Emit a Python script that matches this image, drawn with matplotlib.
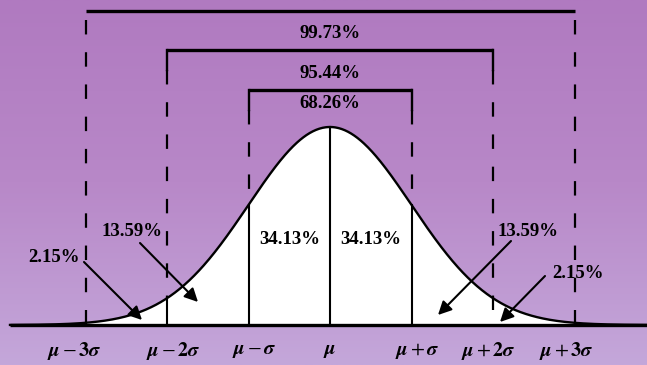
import numpy as np
import matplotlib
matplotlib.use("Agg")
import matplotlib.pyplot as plt
from matplotlib.colors import LinearSegmentedColormap

plt.rcParams['mathtext.fontset'] = 'stix'

# ---- data ----
sigma_pos = [-3, -2, -1, 0, 1, 2, 3]
sigma_labels = [r'$\boldsymbol{\mu}-\mathbf{3}\boldsymbol{\sigma}$',
                r'$\boldsymbol{\mu}-\mathbf{2}\boldsymbol{\sigma}$',
                r'$\boldsymbol{\mu}-\boldsymbol{\sigma}$',
                r'$\boldsymbol{\mu}$',
                r'$\boldsymbol{\mu}+\boldsymbol{\sigma}$',
                r'$\boldsymbol{\mu}+\mathbf{2}\boldsymbol{\sigma}$',
                r'$\boldsymbol{\mu}+\mathbf{3}\boldsymbol{\sigma}$']
band_pct = ['34.13%', '34.13%']
band_pct_x = [-0.5, 0.5]
bracket_k = [3, 2, 1]
bracket_pct = ['99.73%', '95.44%', '68.26%']
tail_labels = ['2.15%', '13.59%', '13.59%', '2.15%']

# ---- layout ----
W, H = 647, 365
MU_PX, SIG_PX, BASE_PX, PEAK_PX = 330, 81.5, 325, 127
pdf_peak = 1/np.sqrt(2*np.pi)
YS = (BASE_PX - PEAK_PX) / pdf_peak  # px per density unit

def X(px): return (px - MU_PX) / SIG_PX
def Y(py): return (BASE_PX - py) / YS

FS = 13.5
TFONT = dict(fontsize=FS, fontweight='bold', family='Liberation Serif')

fig = plt.figure(figsize=(6.47, 3.65), dpi=100)
ax = fig.add_axes([0, 0, 1, 1])
ax.set_xlim(X(0), X(W))
ax.set_ylim(Y(H), Y(0))
ax.axis('off')

# background gradient
cmap = LinearSegmentedColormap.from_list('bg', ['#b07ac0', '#b888c8', '#c4a7da'])
grad = np.linspace(0, 1, 256).reshape(-1, 1)
ax.imshow(grad, extent=[X(0), X(W), Y(H), Y(0)], aspect='auto', cmap=cmap,
          origin='upper', zorder=0)

# curve
xs = np.linspace(X(10), X(W), 800)
pdf = lambda x: np.exp(-x**2/2)/np.sqrt(2*np.pi)
ys = pdf(xs)
ax.fill_between(xs, 0, ys, color='white', zorder=1)
ax.plot(xs, ys, color='black', lw=1.7, zorder=4)
ax.plot([X(10), X(W)], [0, 0], color='black', lw=2.4, zorder=4, solid_capstyle='butt')

dash = (0, (6.5, 8))
lw_d = 1.6
# solid verticals under curve
for k in [-2, -1, 0, 1]:
    ax.plot([k, k], [0, pdf(k)], color='black', lw=1.5, zorder=3)

# brackets
br_y = {3: Y(11), 2: Y(50), 1: Y(90)}
br_end = {3: Y(18), 2: Y(70), 1: Y(110)}
txt_y = {3: Y(33), 2: Y(73), 1: Y(104)}
for k, pct in zip(bracket_k, bracket_pct):
    ax.plot([-k, k], [br_y[k], br_y[k]], color='black', lw=2.4, zorder=4,
            solid_capstyle='butt')
    if k != 3:
        for s in (-1, 1):
            ax.plot([s*k, s*k], [br_y[k], br_end[k]], color='black', lw=1.7, zorder=4)
    ax.text(0, txt_y[k], pct, ha='center', va='center', zorder=5, **TFONT)
    # dashed continuation
    for s in (-1, 1):
        x0 = s*k
        bottom = pdf(x0) if k == 1 else 0
        if k == 2 and s == -1:
            bottom = pdf(x0)
        ax.plot([x0, x0], [br_end[k] if k != 3 else Y(20), bottom], color='black',
                lw=lw_d, linestyle=dash, zorder=4)

# central bands
for x, t in zip(band_pct_x, band_pct):
    ax.text(x, Y(240), t, ha='center', va='center', zorder=5, **TFONT)

# tail annotations
ann = [
    (tail_labels[0], (54, 258), (84, 262), (142, 320)),
    (tail_labels[1], (132, 231), (140, 243), (198, 302)),
    (tail_labels[2], (528, 231), (511, 241), (438, 315)),
    (tail_labels[3], (578, 274), (545, 276), (500, 322)),
]
for t, tp, a0, a1 in ann:
    ax.text(X(tp[0]), Y(tp[1]), t, ha='center', va='center', zorder=5, **TFONT)
    ax.annotate('', xy=(X(a1[0]), Y(a1[1])), xytext=(X(a0[0]), Y(a0[1])),
                arrowprops=dict(arrowstyle='-|>', color='black', lw=1.5,
                                mutation_scale=20, shrinkA=0, shrinkB=0),
                zorder=6)

# axis labels
label_px = [74, 173, 254, 330, 417, 488, 566]
for px, lab in zip(label_px, sigma_labels):
    ax.text(X(px), Y(351), lab, ha='center', va='center', fontsize=14.5, zorder=5)

fig.savefig('out.png', dpi=100)
